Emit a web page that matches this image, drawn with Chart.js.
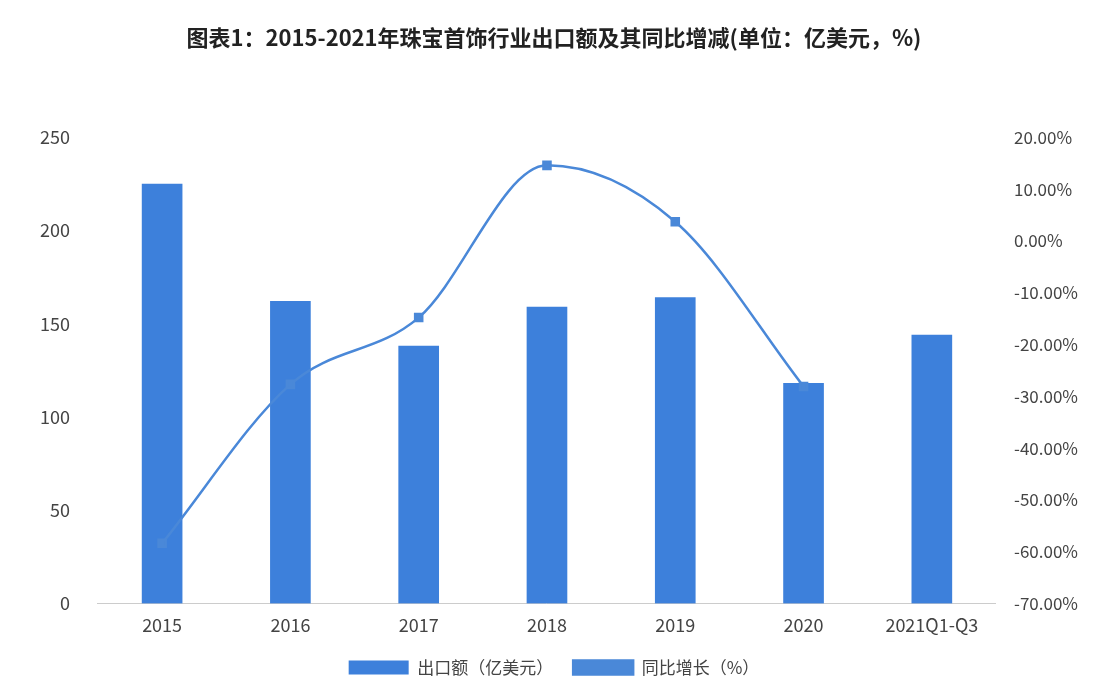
<!DOCTYPE html>
<html><head><meta charset="utf-8">
<script src="https://cdn.jsdelivr.net/npm/chart.js@4"></script>
<style>html,body{margin:0;padding:0;background:#fff;}#w{width:1108px;height:694px;}</style>
</head><body><div id="w"><canvas id="c" width="1108" height="694"></canvas></div>
<script>
const categories=["2015","2016","2017","2018","2019","2020","2021Q1-Q3"];
const exportValues=[225,162,138,159,164,118,144];
const growthValues=[-58.4,-27.7,-14.8,14.6,3.7,-28.1,null];
const F="'Noto Sans CJK SC','Noto Sans',sans-serif";
new Chart(document.getElementById('c'),{
 data:{labels:categories,datasets:[
  {type:'line',label:'同比增长（%）',data:growthValues,yAxisID:'y1',borderColor:'#4a88d8',backgroundColor:'#4a88d8',borderWidth:2.5,pointStyle:'rect',pointRadius:5,tension:0.45,cubicInterpolationMode:'monotone',order:0},
  {type:'bar',label:'出口额（亿美元）',data:exportValues,yAxisID:'y',backgroundColor:'#3d80db',barThickness:40,order:1}
 ]},
 options:{responsive:false,animation:false,
  layout:{padding:{left:20,right:20,top:10,bottom:8}},
  plugins:{title:{display:true,text:'图表1：2015-2021年珠宝首饰行业出口额及其同比增减(单位：亿美元，%)',font:{family:F,size:22,weight:'bold'},color:'#222',padding:{top:14,bottom:87}},
   legend:{position:'bottom',reverse:true,labels:{font:{family:F,size:17},color:'#444',boxWidth:60,boxHeight:14,padding:20}},
   tooltip:{enabled:false}},
  scales:{
   x:{grid:{display:false},border:{color:'#ccc'},ticks:{font:{family:F,size:18},color:'#444'}},
   y:{min:0,max:250,ticks:{stepSize:50,font:{family:F,size:18},color:'#444',padding:20},grid:{display:false},border:{display:false}},
   y1:{position:'right',min:-70,max:20,ticks:{stepSize:10,font:{family:F,size:17},color:'#444',padding:10,callback:v=>v.toFixed(2)+'%'},grid:{display:false},border:{display:false}}
  }}
});
</script></body></html>
